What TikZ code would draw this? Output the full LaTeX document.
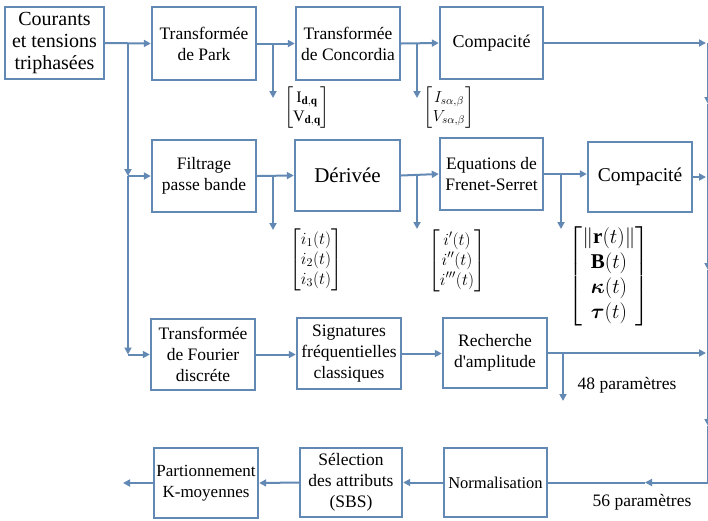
\RequirePackage{fix-cm}
\documentclass[tikz,border=0pt]{standalone}
\usepackage{amsmath}
\usepackage{fontspec}
\setmainfont{Liberation Serif}
\newfontfamily\tms{Liberation Serif}
\renewcommand\familydefault{\rmdefault}
\usetikzlibrary{arrows.meta}
\definecolor{lc}{RGB}{98,136,180}
\tikzset{
  box/.style={draw=lc, line width=2.4pt, fill=white, align=center, inner sep=0pt,
    font=\tms\fontsize{17.5}{21}\selectfont},
  arr/.style={draw=lc, line width=2pt, -{Triangle[length=7pt,width=7pt]}},
  ln/.style={draw=lc, line width=2pt},
  mat/.style={inner sep=0pt, font=\fontsize{17}{20}\selectfont},
  lbl/.style={inner sep=0pt, font=\tms\fontsize{17.5}{21}\selectfont}
}
\begin{document}
\begin{tikzpicture}[x=1pt,y=-1pt]
\useasboundingbox (0,0) rectangle (708,520);
% boxes
\node[box, minimum width=99pt, minimum height=72pt, font=\tms\fontsize{20}{22}\selectfont] (cour) at (54.5,43) {Courants\\et tensions\\triphasées};
\node[box, minimum width=104pt, minimum height=73pt] (park) at (204,43.5) {Transformée\\de Park};
\node[box, minimum width=104pt, minimum height=73pt] (conc) at (348,43.5) {Transformée\\de Concordia};
\node[box, minimum width=103pt, minimum height=72pt, font=\tms\fontsize{18}{21}\selectfont] (comp1) at (491.5,43) {Compacité};
\node[box, minimum width=104pt, minimum height=72pt] (filt) at (204,176) {Filtrage\\passe bande};
\node[box, minimum width=105pt, minimum height=71pt, font=\tms\fontsize{21}{24}\selectfont] (der) at (347.5,175.5) {Dérivée};
\node[box, minimum width=103pt, minimum height=72pt] (eq) at (491.5,174) {Equations de\\Frenet-Serret};
\node[box, minimum width=104pt, minimum height=70pt, font=\tms\fontsize{19.5}{22}\selectfont] (comp2) at (640,177) {Compacité};
\node[box, minimum width=104pt, minimum height=71pt] (four) at (203,354.5) {Transformée\\de Fourier\\discréte};
\node[box, minimum width=104pt, minimum height=71pt] (sig) at (349,353.5) {Signatures\\fréquentielles\\classiques};
\node[box, minimum width=104pt, minimum height=70pt] (rech) at (495,353) {Recherche\\d'amplitude};
\node[box, minimum width=104pt, minimum height=70pt, font=\tms\fontsize{17}{21}\selectfont] (part) at (206,483) {Partionnement\\K-moyennes};
\node[box, minimum width=102pt, minimum height=69pt] (sel) at (351,482.5) {Sélection\\des attributs\\(SBS)};
\node[box, minimum width=103pt, minimum height=69pt, font=\tms\fontsize{16.5}{20}\selectfont] (norm) at (495.5,482.5) {Normalisation};
% matrices
\node[mat, font=\fontsize{16}{19}\selectfont] (m1) at (307,108) {$\begin{bmatrix}\mathrm{I}_{\mathbf{d,q}}\\ \mathrm{V}_{\mathbf{d,q}}\end{bmatrix}$};
\node[mat, font=\fontsize{16}{19}\selectfont] (m2) at (449,108) {$\begin{bmatrix}I_{s\alpha,\beta}\\ V_{s\alpha,\beta}\end{bmatrix}$};
\node[mat] (m3) at (316,260) {$\begin{bmatrix}i_1(t)\\ i_2(t)\\ i_3(t)\end{bmatrix}$};
\node[mat] (m4) at (457,261) {$\begin{bmatrix}i'(t)\\ i''(t)\\ i'''(t)\end{bmatrix}$};
\node[mat, font=\fontsize{21}{25}\selectfont] (m5) at (609,276) {$\begin{bmatrix}\|\mathbf{r}(t)\|\\ \mathbf{B}(t)\\ \boldsymbol{\kappa}(t)\\ \boldsymbol{\tau}(t)\end{bmatrix}$};
\node[lbl] (l48) at (627,385) {48 paramètres};
\node[lbl] (l56) at (642,502) {56 paramètres};
% coordinates
\coordinate (t1) at (128,43);
\coordinate (t2) at (128,176);
\coordinate (t3) at (128,354.5);
\coordinate (b1) at (273,43.5);
\coordinate (b1e) at (273,98);
\coordinate (b2) at (417,43.5);
\coordinate (b2e) at (417,98);
\coordinate (b3) at (273,176);
\coordinate (b3e) at (273,230);
\coordinate (b4) at (417,175.5);
\coordinate (b4e) at (417,229);
\coordinate (b5) at (561,174);
\coordinate (b5e) at (561,229);
\coordinate (b6) at (563,353);
\coordinate (b6e) at (563,401);
\coordinate (r1) at (706,43);
\coordinate (r2) at (706,177);
\coordinate (r3) at (706,353);
\coordinate (rv1) at (708,43);
\coordinate (rv2) at (708,104);
\coordinate (rv3) at (708,270);
\coordinate (rv4) at (708,426);
\coordinate (rv5) at (708,482.5);
\coordinate (mid) at (645,482.5);
\coordinate (pe) at (123,483);
% connectors
\draw[arr] (cour.east) -- (park.west);
\draw[arr] (t1) -- (t2);
\draw[arr] (t2) -- (filt.west);
\draw[arr] (t2) -- (t3);
\draw[arr] (t3) -- (four.west);
\draw[arr] (park.east) -- (conc.west);
\draw[arr] (b1) -- (b1e);
\draw[arr] (conc.east) -- (comp1.west);
\draw[arr] (b2) -- (b2e);
\draw[arr] (comp1.east) -- (r1);
\draw[arr] (filt.east) -- (der.west);
\draw[arr] (b3) -- (b3e);
\draw[arr] (der.east) -- (eq.west);
\draw[arr] (b4) -- (b4e);
\draw[arr] (eq.east) -- (comp2.west |- eq.east);
\draw[arr] (b5) -- (b5e);
\draw[arr] (comp2.east) -- (r2);
\draw[arr] (four.east) -- (sig.west |- four.east);
\draw[arr] (sig.east) -- (rech.west |- sig.east);
\draw[arr] (rech.east) -- (r3);
\draw[arr] (b6) -- (b6e);
\draw[arr] (rv1) -- (rv2);
\draw[arr] (rv2) -- (rv3);
\draw[arr] (rv3) -- (rv4);
\draw[ln] (rv4) -- (rv5);
\draw[arr] (rv5) -- (mid);
\draw[ln] (mid) -- (norm.east);
\draw[arr] (norm.west) -- (sel.east);
\draw[arr] (sel.west) -- (part.east);
\draw[arr] (part.west) -- (pe);
\end{tikzpicture}
\end{document}
